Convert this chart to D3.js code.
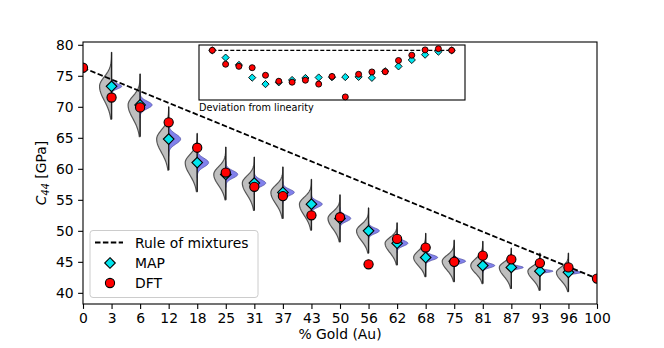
<!DOCTYPE html>
<html>
<head>
<meta charset="utf-8">
<script src="https://cdn.jsdelivr.net/npm/d3@7"></script>
<style>
  html, body { margin: 0; padding: 0; background: #fff; }
  svg { display: block; font-family: "DejaVu Sans", sans-serif; }
</style>
</head>
<body>
<div id="chart"></div>
<script>
// composition labels (% Au) and values
const goldLabels = ['0', '3', '6', '12', '18', '25', '31', '37', '43', '50', '56', '62', '68', '75', '81', '87', '93', '96', '100'];
const goldPct = [0, 3, 6, 12, 18, 25, 31, 37, 43, 50, 56, 62, 68, 75, 81, 87, 93, 96, 100];
const dftVals = [76.3, 71.5, 69.9, 67.5, 63.4, 59.4, 57.1, 55.6, 52.5, 52.2, 44.6, 48.7, 47.3, 45.0, 46.0, 45.4, 44.8, 44.1, 42.3];
const mapVals = [76.3, 73.3, 70.3, 64.8, 61.0, 59.1, 57.7, 56.2, 54.3, 52.0, 50.0, 48.0, 45.7, 45.1, 44.4, 44.1, 43.5, 43.3, 42.3];

// posterior violins (alloys only)
const violinTop = [null, 78.8, 75.3, 70.0, 65.7, 63.5, 61.9, 60.3, 58.3, 55.8, 53.7, 51.3, 49.6, 48.5, 48.3, 47.2, 46.4, 46.4, null];
const violinBottom = [null, 68.0, 65.2, 59.8, 56.3, 55.0, 53.3, 52.0, 50.1, 48.2, 46.4, 44.5, 42.6, 41.8, 41.5, 40.7, 40.4, 40.2, null];
const blueSpread = [null, 0.4, 0.6, 0.8, 0.7, 0.6, 0.55, 0.5, 0.5, 0.5, 0.45, 0.45, 0.4, 0.35, 0.35, 0.25, 0.2, 0.2, null];
const bluePeak = [null, 0.85, 1, 1, 0.95, 1, 0.95, 0.95, 0.9, 0.9, 0.9, 0.9, 1, 0.95, 1, 1, 1.1, 1.1, null];

const yTicks = [40, 45, 50, 55, 60, 65, 70, 75, 80];

const W = 664, H = 348;
const plot = { left: 83, right: 597, top: 42, bottom: 304 };
const FONT = 13.9;

const svg = d3.select('#chart').append('svg')
  .attr('width', W)
  .attr('height', H);

const x = d3.scaleLinear().domain([0, goldLabels.length - 1]).range([plot.left, plot.right]);
const y = d3.scaleLinear().domain([38.2, 80.45]).range([plot.bottom, plot.top]);
const step = x(1) - x(0);

svg.append('clipPath').attr('id', 'clip')
  .append('rect')
  .attr('x', plot.left).attr('y', plot.top)
  .attr('width', plot.right - plot.left).attr('height', plot.bottom - plot.top);

const g = svg.append('g').attr('clip-path', 'url(#clip)');

// violins
const gauss = (v, m, s) => Math.exp(-0.5 * ((v - m) / s) ** 2);
const vIdx = d3.range(goldLabels.length).filter(i => violinTop[i] != null);
const grayW = step * 0.42;
const blueW = step * 0.42;

vIdx.forEach(i => {
  const cx = x(i), top = violinTop[i], bot = violinBottom[i], m = mapVals[i];
  const sUp = 0.28 * (top - m), sDown = 0.43 * (m - bot);
  const vs = d3.range(61).map(k => top - (top - bot) * k / 60);
  const left = vs.map(v => [cx - grayW * gauss(v, m, v > m ? sUp : sDown), y(v)]);
  const pts = [[cx, y(top)], ...left, [cx, y(bot)]];
  g.append('path')
    .attr('d', d3.line()(pts) + 'Z')
    .attr('fill', '#bfbfbf')
    .attr('stroke', '#555')
    .attr('stroke-width', 1.2)
    .attr('stroke-linejoin', 'round');

  const s = blueSpread[i];
  const lo = Math.max(bot, m - 3.5 * s), hi = Math.min(top, m + 3.5 * s);
  const bv = d3.range(41).map(k => hi - (hi - lo) * k / 40);
  const right = bv.map(v => [cx + blueW * bluePeak[i] * gauss(v, m, s), y(v)]);
  g.append('path')
    .attr('d', d3.line()([[cx, y(hi)], ...right, [cx, y(lo)]]) + 'Z')
    .attr('fill', '#7373ea')
    .attr('fill-opacity', 0.9)
    .attr('stroke', '#5050a0')
    .attr('stroke-width', 0.7);

  g.append('line')
    .attr('x1', cx).attr('x2', cx)
    .attr('y1', y(top)).attr('y2', y(bot))
    .attr('stroke', '#222')
    .attr('stroke-width', 1.3);
});

// rule of mixtures
const last = goldLabels.length - 1;
g.append('line')
  .attr('x1', x(0)).attr('y1', y(dftVals[0]))
  .attr('x2', x(last)).attr('y2', y(dftVals[last]))
  .attr('stroke', '#000')
  .attr('stroke-width', 1.8)
  .attr('stroke-dasharray', '5.5,2.4');

const diamond = r => `M0,${-r}L${r},0L0,${r}L${-r},0Z`;

g.selectAll('.map')
  .data(vIdx)
  .join('path')
  .attr('class', 'map')
  .attr('d', diamond(5.3))
  .attr('transform', i => `translate(${x(i)},${y(mapVals[i])})`)
  .attr('fill', '#00e5ee')
  .attr('stroke', '#000')
  .attr('stroke-width', 1.1);

g.selectAll('.dft')
  .data(dftVals)
  .join('circle')
  .attr('class', 'dft')
  .attr('cx', (d, i) => x(i))
  .attr('cy', d => y(d))
  .attr('r', 4.6)
  .attr('fill', '#ff0000')
  .attr('stroke', '#000')
  .attr('stroke-width', 1.1);

// axes
const xAxis = svg.append('g')
  .attr('transform', `translate(0,${plot.bottom})`)
  .call(d3.axisBottom(x).tickValues(d3.range(goldLabels.length)).tickFormat(i => goldLabels[i])
    .tickSize(4.9).tickPadding(4).tickSizeOuter(0));
const yAxis = svg.append('g')
  .attr('transform', `translate(${plot.left},0)`)
  .call(d3.axisLeft(y).tickValues(yTicks).tickSize(4.9).tickPadding(4.5).tickSizeOuter(0));

[xAxis, yAxis].forEach(a => {
  a.select('.domain').remove();
  a.selectAll('text').attr('font-size', FONT).attr('font-family', '"DejaVu Sans", sans-serif').attr('fill', '#000');
  a.selectAll('line').attr('stroke', '#000').attr('stroke-width', 1.1);
});

svg.append('rect')
  .attr('x', plot.left).attr('y', plot.top)
  .attr('width', plot.right - plot.left).attr('height', plot.bottom - plot.top)
  .attr('fill', 'none')
  .attr('stroke', '#000')
  .attr('stroke-width', 1.1);

svg.append('text')
  .attr('x', (plot.left + plot.right) / 2)
  .attr('y', 339)
  .attr('text-anchor', 'middle')
  .attr('font-size', FONT)
  .text('% Gold (Au)');

const yl = svg.append('text')
  .attr('transform', `translate(46,${(plot.top + plot.bottom) / 2}) rotate(-90)`)
  .attr('text-anchor', 'middle')
  .attr('font-size', FONT);
yl.append('tspan').attr('font-style', 'italic').text('C');
yl.append('tspan').attr('font-style', 'italic').attr('font-size', 9.7).attr('dy', 3).text('44');
yl.append('tspan').attr('dy', -3).text('\u00a0[GPa]');

// legend
const leg = svg.append('g');
leg.append('rect')
  .attr('x', 90).attr('y', 230.5)
  .attr('width', 168).attr('height', 67)
  .attr('rx', 3)
  .attr('fill', '#fff').attr('fill-opacity', 0.8)
  .attr('stroke', '#cccccc')
  .attr('stroke-width', 1);
const legItems = [
  { label: 'Rule of mixtures', y: 242.5 },
  { label: 'MAP', y: 263 },
  { label: 'DFT', y: 283 }
];
leg.append('line')
  .attr('x1', 95).attr('x2', 123)
  .attr('y1', legItems[0].y).attr('y2', legItems[0].y)
  .attr('stroke', '#000').attr('stroke-width', 1.8).attr('stroke-dasharray', '5.5,2.4');
leg.append('path')
  .attr('d', diamond(5.3))
  .attr('transform', `translate(110,${legItems[1].y})`)
  .attr('fill', '#00e5ee').attr('stroke', '#000').attr('stroke-width', 1.1);
leg.append('circle')
  .attr('cx', 110).attr('cy', legItems[2].y).attr('r', 4.6)
  .attr('fill', '#ff0000').attr('stroke', '#000').attr('stroke-width', 1.1);
leg.selectAll('.lt')
  .data(legItems)
  .join('text')
  .attr('class', 'lt')
  .attr('x', 135)
  .attr('y', d => d.y)
  .attr('dy', '0.36em')
  .attr('font-size', FONT)
  .text(d => d.label);

// inset: deviation from linear rule (in composition)
const rule = c => dftVals[0] + (dftVals[last] - dftVals[0]) * c / 100;
const box = { left: 199, right: 465, top: 45, bottom: 100 };
const xi = d3.scaleLinear().domain([-1, goldLabels.length]).range([box.left, box.right]);
const yi = d3.scaleLinear().domain([-13.5, 1.45]).range([box.bottom, box.top]);

const inset = svg.append('g');
inset.append('rect')
  .attr('x', box.left).attr('y', box.top)
  .attr('width', box.right - box.left).attr('height', box.bottom - box.top)
  .attr('fill', '#fff')
  .attr('stroke', '#000')
  .attr('stroke-width', 1.1);
inset.append('line')
  .attr('x1', xi(0)).attr('x2', xi(last))
  .attr('y1', yi(0)).attr('y2', yi(0))
  .attr('stroke', '#000').attr('stroke-width', 1.3).attr('stroke-dasharray', '4,2');
inset.selectAll('.imap')
  .data(mapVals)
  .join('path')
  .attr('class', 'imap')
  .attr('d', diamond(3.6))
  .attr('transform', (d, i) => `translate(${xi(i)},${yi(d - rule(goldPct[i]))})`)
  .attr('fill', '#00e5ee').attr('stroke', '#000').attr('stroke-width', 0.9);
inset.selectAll('.idft')
  .data(dftVals)
  .join('circle')
  .attr('class', 'idft')
  .attr('cx', (d, i) => xi(i))
  .attr('cy', (d, i) => yi(d - rule(goldPct[i])))
  .attr('r', 3)
  .attr('fill', '#ff0000').attr('stroke', '#000').attr('stroke-width', 0.9);
inset.append('text')
  .attr('x', box.left)
  .attr('y', 111)
  .attr('font-size', 9.7)
  .text('Deviation from linearity');
</script>
</body>
</html>
